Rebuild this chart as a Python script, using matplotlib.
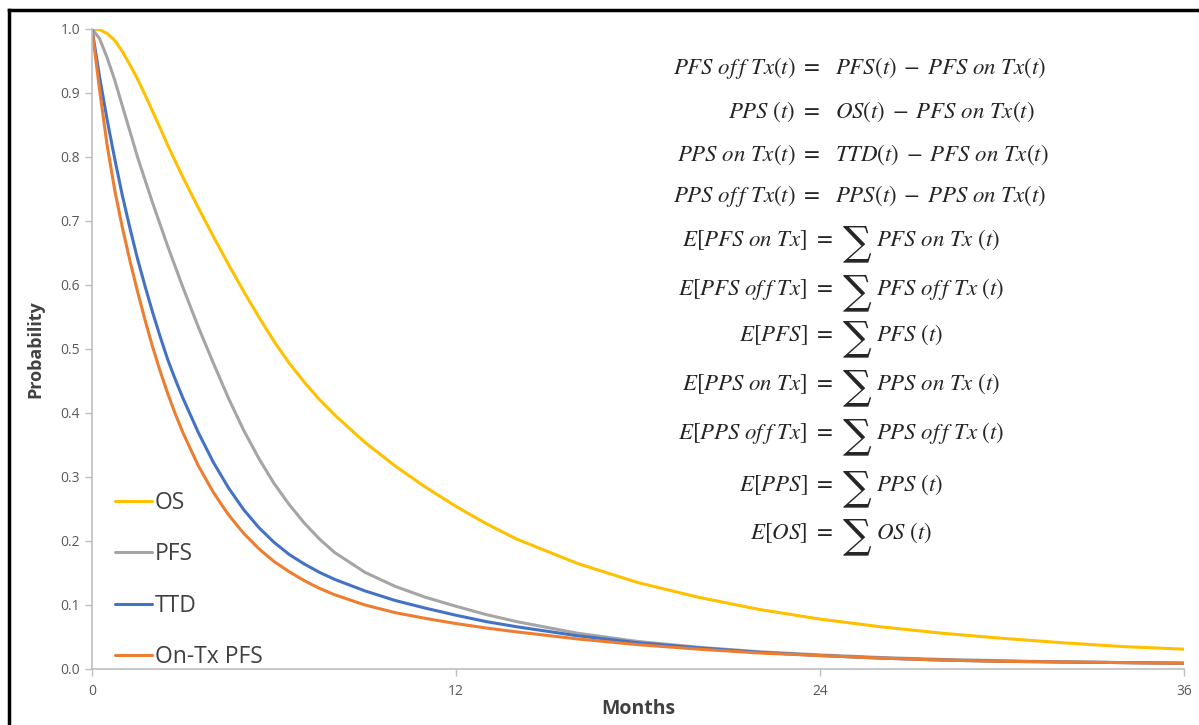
import matplotlib
matplotlib.use("Agg")
import matplotlib.pyplot as plt
from matplotlib.lines import Line2D

plt.rcParams["font.family"] = ["Open Sans", "DejaVu Sans"]
plt.rcParams["mathtext.fontset"] = "stix"

# months and survival probabilities
months = [0, 0.25, 0.5, 0.75, 1, 1.25, 1.5, 1.75, 2, 2.25, 2.5, 2.75, 3, 3.5, 4, 4.5,
          5, 5.5, 6, 6.5, 7, 7.5, 8, 9, 10, 11, 12, 13, 14, 16, 18, 20, 22, 24, 26,
          28, 30, 32, 34, 36]
os_curve = [1.0, 0.999, 0.993, 0.982, 0.965, 0.944, 0.922, 0.897, 0.871, 0.845, 0.818,
            0.793, 0.768, 0.721, 0.676, 0.632, 0.590, 0.550, 0.512, 0.478, 0.448,
            0.421, 0.397, 0.354, 0.317, 0.284, 0.254, 0.227, 0.203, 0.165, 0.135,
            0.112, 0.093, 0.078, 0.066, 0.056, 0.048, 0.041, 0.035, 0.031]
pfs_curve = [1.0, 0.985, 0.955, 0.92, 0.88, 0.84, 0.80, 0.764, 0.728, 0.694, 0.66,
             0.628, 0.596, 0.535, 0.478, 0.423, 0.373, 0.329, 0.290, 0.257, 0.228,
             0.203, 0.182, 0.151, 0.129, 0.112, 0.098, 0.085, 0.074, 0.056, 0.043,
             0.034, 0.027, 0.022, 0.018, 0.015, 0.013, 0.011, 0.010, 0.009]
ttd_curve = [1.0, 0.925, 0.858, 0.797, 0.74, 0.689, 0.641, 0.598, 0.557, 0.519, 0.483,
             0.452, 0.423, 0.37, 0.323, 0.283, 0.249, 0.221, 0.198, 0.179, 0.164,
             0.151, 0.14, 0.122, 0.107, 0.095, 0.084, 0.074, 0.066, 0.052, 0.041,
             0.033, 0.026, 0.021, 0.017, 0.014, 0.012, 0.011, 0.010, 0.009]
ontx_curve = [1.0, 0.905, 0.818, 0.748, 0.69, 0.638, 0.59, 0.545, 0.503, 0.465, 0.43,
              0.398, 0.369, 0.318, 0.276, 0.241, 0.212, 0.188, 0.168, 0.152, 0.138,
              0.126, 0.116, 0.10, 0.088, 0.079, 0.071, 0.064, 0.058, 0.047, 0.038,
              0.031, 0.025, 0.021, 0.017, 0.014, 0.012, 0.011, 0.010, 0.009]

series = [("OS", os_curve, "#FFC000"),
          ("PFS", pfs_curve, "#A5A5A5"),
          ("TTD", ttd_curve, "#4472C4"),
          ("On-Tx PFS", ontx_curve, "#ED7D31")]

xticks = [0, 12, 24, 36]
yticks = [0.0, 0.1, 0.2, 0.3, 0.4, 0.5, 0.6, 0.7, 0.8, 0.9, 1.0]

# right-hand equations: left side (up to "="), right side
top_lhs = [r"$PFS\ of\,f\ Tx(t)\ =$", r"$PPS\ (t)\ =$", r"$PPS\ on\ Tx(t)\ =$",
           r"$PPS\ of\,f\ Tx(t)\ =$"]
top_rhs = [r"$PFS(t)\;-\;PFS\ on\ Tx(t)$", r"$OS(t)\;-\;PFS\ on\ Tx(t)$",
           r"$TTD(t)\;-\;PFS\ on\ Tx(t)$", r"$PPS(t)\;-\;PPS\ on\ Tx(t)$"]
sum_lhs = [r"$E[PFS\ on\ Tx]\ =$", r"$E[PFS\ of\,f\ Tx]\ =$", r"$E[PFS]\ =$",
           r"$E[PPS\ on\ Tx]\ =$", r"$E[PPS\ of\,f\ Tx]\ =$", r"$E[PPS]\ =$", r"$E[OS]\ =$"]
sum_rhs = [r"$PFS\ on\ Tx\ (t)$", r"$PFS\ of\,f\ Tx\ (t)$", r"$PFS\ (t)$",
           r"$PPS\ on\ Tx\ (t)$", r"$PPS\ of\,f\ Tx\ (t)$", r"$PPS\ (t)$", r"$OS\ (t)$"]

W, H = 1199, 725
fig = plt.figure(figsize=(W / 100, H / 100), dpi=100)
ax = fig.add_axes([92 / W, 1 - 669 / H, (1184 - 92) / W, (669 - 29) / H])

handles = []
for name, vals, col in series:
    h, = ax.plot(months, vals, color=col, lw=2.2, label=name, solid_capstyle="round")
    handles.append(h)

ax.set_xlim(0, 36)
ax.set_ylim(0, 1.0)
ax.set_xticks(xticks)
ax.set_yticks(yticks)
ax.set_yticklabels([f"{v:.1f}" for v in yticks])
ax.tick_params(colors="#bfbfbf", labelcolor="#595959", labelsize=10, length=5, width=1)
ax.tick_params(axis="x", pad=6)
for s in ("top", "right"):
    ax.spines[s].set_visible(False)
for s in ("left", "bottom"):
    ax.spines[s].set_color("#bfbfbf")
    ax.spines[s].set_linewidth(1.2)

ax.set_xlabel("Months", fontsize=14, fontweight="bold", color="#404040", labelpad=0)
ax.set_ylabel("Probability", fontsize=13, fontweight="bold", color="#404040", labelpad=12)

ax.legend(handles=handles, loc="lower left", bbox_to_anchor=(0.011, -0.018),
          frameon=False, fontsize=16.5, handlelength=1.6, handletextpad=0.12,
          labelspacing=1.2, borderpad=0, labelcolor="#404040")

# equations, placed in figure pixel coords
eq_col = "#262626"
fs = 16.5
top_y = [68, 112, 155, 196]
for lhs, rhs, y in zip(top_lhs, top_rhs, top_y):
    fig.text(820 / W, 1 - y / H, lhs, ha="right", va="center", fontsize=fs, color=eq_col)
    fig.text(835 / W, 1 - y / H, rhs, ha="left", va="center", fontsize=fs, color=eq_col)
sum_y = [240, 289, 335, 384, 433, 485, 533]
for lhs, rhs, y in zip(sum_lhs, sum_rhs, sum_y):
    fig.text(833 / W, 1 - y / H, lhs, ha="right", va="center", fontsize=fs, color=eq_col)
    fig.text(857 / W, 1 - (y + 4) / H, "\u2211", ha="center", va="center", fontsize=29,
             color=eq_col, family="DejaVu Serif")
    fig.text(876 / W, 1 - y / H, rhs, ha="left", va="center", fontsize=fs, color=eq_col)

# black frame edges of the source screenshot
fig.add_artist(Line2D([9 / W, 9 / W], [0, 1 - 10 / H], color="black", lw=2.5,
                      transform=fig.transFigure))
fig.add_artist(Line2D([9 / W, 1], [1 - 10 / H, 1 - 10 / H], color="black", lw=2.5,
                      transform=fig.transFigure))

fig.savefig("out.png", dpi=100)
